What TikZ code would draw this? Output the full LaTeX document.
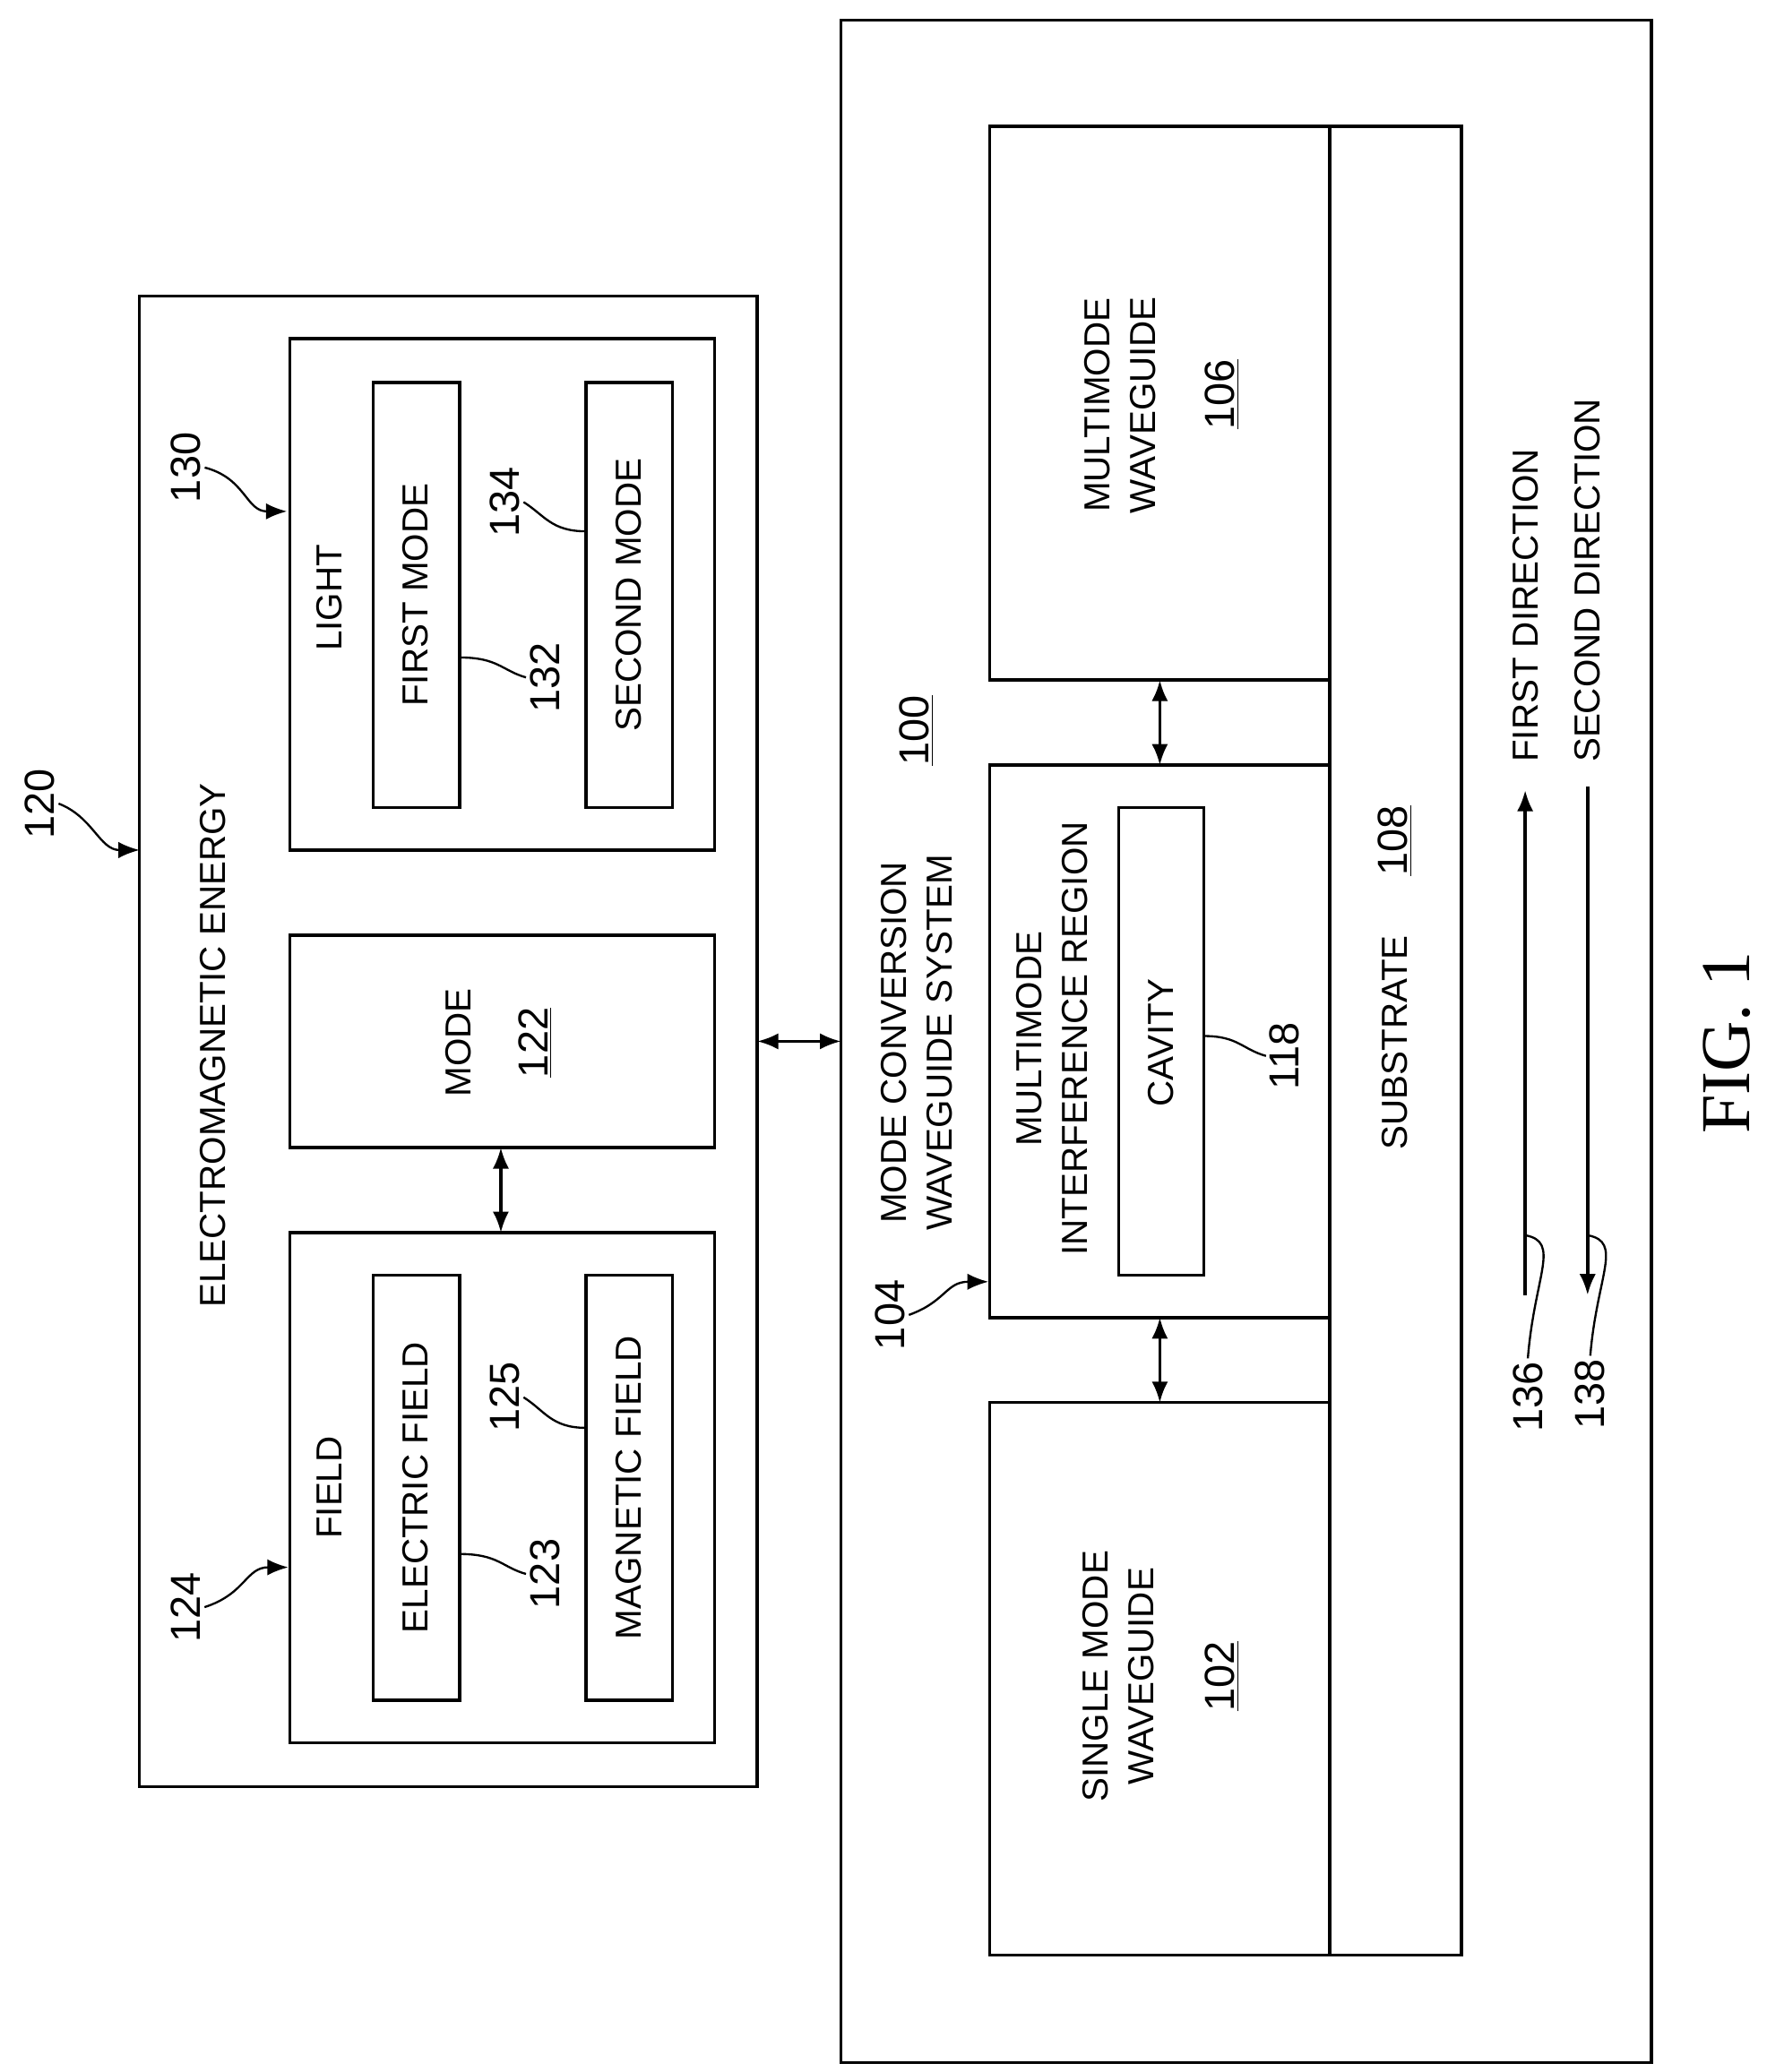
\documentclass[tikz,border=0pt]{standalone}
\usepackage{fontspec}
\setmainfont{Liberation Sans}
\newfontfamily\figfont{Liberation Serif}
\usetikzlibrary{arrows.meta,positioning}
\begin{document}
\begin{tikzpicture}[x=0.02cm,y=-0.02cm,>={Latex[length=9pt,width=7pt]},
  line width=1.3pt,font=\fontsize{15.5}{19.5}\selectfont,
  box/.style={draw},
  txt/.style={rotate=90,align=center,inner sep=0pt},
  num/.style={txt,inner sep=1pt,font=\fontsize{18}{20}\selectfont},
  lead/.style={line width=0.9pt}]
  % frame
  \useasboundingbox (0,0) rectangle (1330,1560);

  % electromagnetic energy
  \draw[box] (105,223) rectangle (570,1345);
  \draw[box] (218,255) rectangle (538,640);
  \draw[box] (281,288) rectangle (346,608);
  \draw[box] (441,288) rectangle (506,608);
  \draw[box] (218,704) rectangle (538,864);
  \draw[box] (218,928) rectangle (538,1312);
  \draw[box] (281,960) rectangle (346,1280);
  \draw[box] (441,960) rectangle (506,1280);
  \node[txt] (em) at (160,787) {ELECTROMAGNETIC ENERGY};
  \node[txt] (light) at (248,450) {LIGHT};
  \node[txt] (first) at (313,448) {FIRST MODE};
  \node[txt] (second) at (473,448) {SECOND MODE};
  \node[txt] (mode) at (345,785) {MODE};
  \node[num] (modenum) at (403,785) {\underline{122}};
  \node[txt] (field) at (248,1120) {FIELD};
  \node[txt] (efield) at (313,1120) {ELECTRIC FIELD};
  \node[txt] (mfield) at (473,1120) {MAGNETIC FIELD};
  \coordinate (modebot) at (377,864);
  \coordinate (fieldtop) at (377,928);
  \draw[<->] (modebot) -- (fieldtop);

  % link
  \coordinate (leftr) at (570,784);
  \coordinate (rightl) at (633,784);
  \draw[<->] (leftr) -- (rightl);

  % mode conversion waveguide system
  \draw[box] (633,15) rectangle (1243,1553);
  \draw[box] (1001,95) rectangle (1100,1472);
  \draw[box] (745,95) rectangle (1001,512);
  \draw[box] (745,576) rectangle (1001,992);
  \draw[box] (745,1056) rectangle (1001,1472);
  \draw[box] (842,608) rectangle (906,960);
  \node[txt] (sys) at (690,785) {MODE CONVERSION\\WAVEGUIDE SYSTEM};
  \node[num] (sysnum) at (690,550) {\underline{100}};
  \node[txt] (mmw) at (843,305) {MULTIMODE\\WAVEGUIDE};
  \node[num] (mmwnum) at (920,297) {\underline{106}};
  \node[txt] (mmi) at (792,782) {MULTIMODE\\INTERFERENCE REGION};
  \node[txt] (cav) at (874,785) {CAVITY};
  \node[txt] (sub) at (1050,785) {SUBSTRATE};
  \node[num] (subnum) at (1050,633) {\underline{108}};
  \node[txt] (smw) at (842,1262) {SINGLE MODE\\WAVEGUIDE};
  \node[num] (smwnum) at (920,1262) {\underline{102}};
  \coordinate (mmwb) at (873,512);
  \coordinate (mmit) at (873,576);
  \coordinate (mmib) at (873,992);
  \coordinate (smwt) at (873,1056);
  \draw[<->] (mmwb) -- (mmit);
  \draw[<->] (mmib) -- (smwt);

  % directions
  \coordinate (d1s) at (1148,975);
  \coordinate (d1e) at (1148,595);
  \coordinate (d2s) at (1195,592);
  \coordinate (d2e) at (1195,975);
  \draw[->] (d1s) -- (d1e);
  \draw[->] (d2s) -- (d2e);
  \node[txt,anchor=west] (dir1) at (1148,575) {FIRST DIRECTION};
  \node[txt,anchor=west] (dir2) at (1195,575) {SECOND DIRECTION};

  % reference numerals
  \node[num] (n120) at (30,605) {120};
  \node[num] (n130) at (140,352) {130};
  \node[num] (n132) at (410,510) {132};
  \node[num] (n134) at (380,378) {134};
  \node[num] (n124) at (140,1210) {124};
  \node[num] (n123) at (410,1185) {123};
  \node[num] (n125) at (380,1052) {125};
  \node[num] (n104) at (670,990) {104};
  \node[num] (n118) at (967,795) {118};
  \node[num] (n136) at (1150,1052) {136};
  \node[num] (n138) at (1197,1050) {138};
  \draw[lead,->] (n120.south) .. controls (70,615) and (75,640) .. (105,640);
  \draw[lead,->] (n130.south) .. controls (185,360) and (185,385) .. (216,385);
  \draw[lead,->] (n124.south) .. controls (185,1200) and (185,1180) .. (217,1180);
  \draw[lead,->] (n104.south) .. controls (712,980) and (712,965) .. (744,965);
  \draw[lead] (n132.north) .. controls (378,505) and (375,495) .. (346,495);
  \draw[lead] (n134.south) .. controls (410,388) and (415,400) .. (441,400);
  \draw[lead] (n123.north) .. controls (378,1180) and (375,1170) .. (346,1170);
  \draw[lead] (n125.south) .. controls (410,1062) and (415,1075) .. (441,1075);
  \draw[lead] (n118.north) .. controls (935,790) and (932,780) .. (906,780);
  \draw[lead] (n136.east) .. controls (1155,960) and (1175,935) .. (1148,930);
  \draw[lead] (n138.east) .. controls (1202,960) and (1222,935) .. (1195,930);

  % figure label
  \node[txt,font=\figfont\fontsize{30}{34}\selectfont] (fig) at (1300,785) {FIG. 1};
\end{tikzpicture}
\end{document}
